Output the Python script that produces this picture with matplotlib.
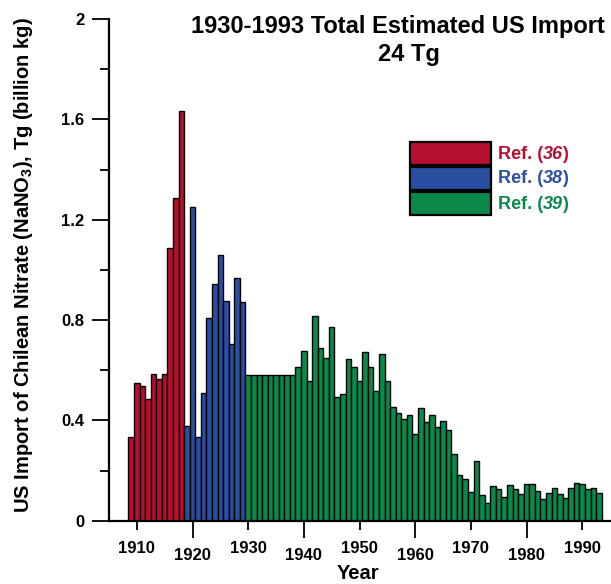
import numpy as np
import matplotlib
matplotlib.use("Agg")
import matplotlib.pyplot as plt
from matplotlib.patches import Rectangle
from matplotlib.ticker import FixedLocator

plt.rcParams['font.family'] = ['Liberation Sans', 'DejaVu Sans']
plt.rcParams['font.weight'] = 'bold'

# US import of Chilean nitrate, Tg per year
years_36 = list(range(1909, 1919))
import_36 = [0.335, 0.548, 0.538, 0.484, 0.584, 0.566, 0.586, 1.086, 1.287, 1.635]

years_38 = list(range(1919, 1930))
import_38 = [0.378, 1.252, 0.335, 0.510, 0.807, 0.943, 1.059, 0.876, 0.705, 0.969, 0.871]

years_39 = list(range(1930, 1994))
import_39 = [0.582, 0.582, 0.582, 0.582, 0.582, 0.582, 0.582, 0.582, 0.582, 0.614,
             0.677, 0.558, 0.816, 0.690, 0.648, 0.771, 0.492, 0.504, 0.645, 0.614,
             0.558, 0.671, 0.614, 0.518, 0.665, 0.558, 0.455, 0.431, 0.406, 0.423,
             0.346, 0.449, 0.395, 0.423, 0.372, 0.399, 0.362, 0.266, 0.182, 0.166,
             0.116, 0.238, 0.102, 0.069, 0.138, 0.126, 0.093, 0.142, 0.126, 0.106,
             0.145, 0.145, 0.118, 0.087, 0.109, 0.129, 0.106, 0.089, 0.129, 0.149,
             0.145, 0.126, 0.129, 0.112]

ref_labels = ['36', '38', '39']
ref_colors = ['#b7102f', '#2a4ea0', '#0a894a']

W, H = 611, 584
fig = plt.figure(figsize=(W / 100, H / 100), dpi=100)
ax = fig.add_axes([109 / W, (H - 520.7) / H, (610 - 109) / W, (520.7 - 19) / H])

for yrs, vals, col in zip([years_36, years_38, years_39], [import_36, import_38, import_39], ref_colors):
    ax.bar(yrs, vals, width=1.0, color=col, edgecolor='black', linewidth=1.0)

ax.set_xlim(1905, 1995)
ax.set_ylim(0, 2)

for s in ['top', 'right']:
    ax.spines[s].set_visible(False)
for s in ['left', 'bottom']:
    ax.spines[s].set_linewidth(1.6)

# y ticks
ax.set_yticks([0, 0.4, 0.8, 1.2, 1.6, 2])
ax.set_yticklabels(['0', '0.4', '0.8', '1.2', '1.6', '2'])
ax.yaxis.set_minor_locator(FixedLocator([0.2, 0.6, 1.0, 1.4, 1.8]))
ax.tick_params(axis='y', which='major', direction='out', length=12.5, width=1.3, pad=5.3, labelsize=12)
ax.tick_params(axis='y', which='minor', direction='out', length=6.5, width=1.3)

# staggered x ticks: long for 1920,1940..., short for 1910,1930...
ax.set_xticks([1920, 1940, 1960, 1980])
ax.set_xticklabels(['1920', '1940', '1960', '1980'])
ax.set_xticks([1910, 1930, 1950, 1970, 1990], minor=True)
ax.set_xticklabels(['1910', '1930', '1950', '1970', '1990'], minor=True)
ax.tick_params(axis='x', which='major', direction='out', length=12.5, width=1.3, pad=7, labelsize=12)
ax.tick_params(axis='x', which='minor', direction='out', length=6.5, width=1.3, pad=8, labelsize=12)

fig.text(358 / W, 1 / H, 'Year', ha='center', va='bottom', fontsize=14.5, fontweight='bold')
fig.text(24 / W, 1 - 265 / H, 'US Import of Chilean Nitrate (NaNO$_\\mathregular{3}$), Tg (billion kg)',
         rotation=90, ha='center', va='center', fontsize=14.5, fontweight='bold')

fig.text(397.5 / W, 1 - 33 / H, '1930-1993 Total Estimated US Import', ha='center', va='baseline',
         fontsize=17, fontweight='bold')
fig.text(408.7 / W, 1 - 61 / H, '24 Tg', ha='center', va='baseline', fontsize=17, fontweight='bold')

# legend boxes
renderer = fig.canvas.get_renderer()
box_tops = [142.5, 167.5, 192.5]
for top, lab, col in zip(box_tops, ref_labels, ref_colors):
    fig.add_artist(Rectangle((409.5 / W, 1 - (top + 22) / H), 81 / W, 22 / H, transform=fig.transFigure,
                             facecolor=col, edgecolor='black', linewidth=1.6))
    yc = 1 - (top + 11.5) / H
    t = fig.text(498 / W, yc, 'Ref. (', ha='left', va='center', fontsize=13, fontweight='bold', color=col)
    x = t.get_window_extent(renderer).x1 / W
    t = fig.text(x, yc, lab, ha='left', va='center', fontsize=13, fontweight='bold', style='italic', color=col)
    x = t.get_window_extent(renderer).x1 / W
    fig.text(x - 1 / W, yc, ')', ha='left', va='center', fontsize=13, fontweight='bold', color=col)

fig.savefig('out.png', dpi=100)
